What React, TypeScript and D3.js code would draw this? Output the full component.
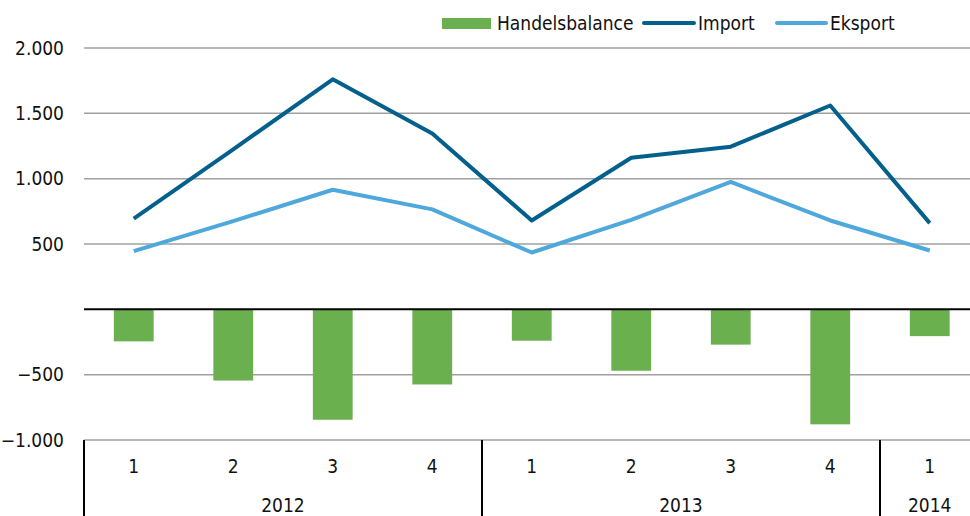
import React, { useRef, useEffect } from "react";
import * as d3 from "d3";

const quarters = ["1", "2", "3", "4", "1", "2", "3", "4", "1"];
const years = [
  { label: "2012", start: 0, count: 4 },
  { label: "2013", start: 4, count: 4 },
  { label: "2014", start: 8, count: 1 },
];
const importValues = [695, 1225, 1760, 1345, 680, 1160, 1245, 1560, 660];
const eksportValues = [445, 675, 915, 765, 435, 685, 975, 680, 450];
const balanceValues = [-245, -545, -845, -575, -240, -470, -270, -880, -205];
const yTicks = [2000, 1500, 1000, 500, 0, -500, -1000];

const W = 970;
const H = 516;
const FONT = "'DejaVu Sans Condensed', 'DejaVu Sans', sans-serif";

const App = () => {
  const ref = useRef<SVGSVGElement>(null);

  useEffect(() => {
    const svg = d3.select(ref.current);
    svg.selectAll("*").remove();

    const left = 84;
    const right = 979.5;
    const x = d3
      .scaleBand<number>()
      .domain(quarters.map((_, i) => i))
      .range([left, right])
      .paddingInner(0.6)
      .paddingOuter(0.3);
    const y = d3.scaleLinear().domain([-1000, 2000]).range([440, 48]);
    const cx = (i: number) => (x(i) as number) + x.bandwidth() / 2;
    const step = (right - left) / quarters.length;

    const fmt = (v: number) =>
      v === 0 ? "" : d3.format(",")(v).replace(/,/g, ".");

    const txt = (sel: any) =>
      sel
        .attr("font-family", FONT)
        .attr("font-stretch", "condensed")
        .attr("font-size", 19)
        .attr("fill", "#111");

    // gridlines
    svg
      .append("g")
      .selectAll("line")
      .data(yTicks.filter((t) => t !== 0))
      .join("line")
      .attr("x1", left)
      .attr("x2", W)
      .attr("y1", (d) => y(d))
      .attr("y2", (d) => y(d))
      .attr("stroke", "#a0a0a0")
      .attr("stroke-width", 1.5);

    svg
      .append("g")
      .call(txt)
      .selectAll("text")
      .data(yTicks)
      .join("text")
      .attr("x", 64)
      .attr("y", (d) => y(d))
      .attr("dy", "0.35em")
      .attr("text-anchor", "end")
      .text(fmt);

    // bars
    svg
      .append("g")
      .selectAll("rect")
      .data(balanceValues)
      .join("rect")
      .attr("x", (_, i) => x(i) as number)
      .attr("width", x.bandwidth())
      .attr("y", (d) => y(Math.max(0, d)))
      .attr("height", (d) => Math.abs(y(d) - y(0)))
      .attr("fill", "#6ab04f");

    // zero line
    svg
      .append("line")
      .attr("x1", left)
      .attr("x2", W)
      .attr("y1", y(0))
      .attr("y2", y(0))
      .attr("stroke", "#000")
      .attr("stroke-width", 2);

    const line = d3
      .line<number>()
      .x((_, i) => cx(i))
      .y((d) => y(d));

    svg
      .append("path")
      .attr("d", line(eksportValues))
      .attr("fill", "none")
      .attr("stroke", "#4fa8dc")
      .attr("stroke-width", 4)
      .attr("stroke-linejoin", "round");

    svg
      .append("path")
      .attr("d", line(importValues))
      .attr("fill", "none")
      .attr("stroke", "#03608c")
      .attr("stroke-width", 4)
      .attr("stroke-linejoin", "round");

    // category axis
    const axis = svg.append("g").call(txt);
    axis
      .selectAll("text.q")
      .data(quarters)
      .join("text")
      .attr("class", "q")
      .attr("x", (_, i) => cx(i))
      .attr("y", 473)
      .attr("text-anchor", "middle")
      .text((d) => d);

    axis
      .selectAll("text.yr")
      .data(years)
      .join("text")
      .attr("class", "yr")
      .attr("x", (d) => left + step * (d.start + d.count / 2))
      .attr("y", 512)
      .attr("text-anchor", "middle")
      .text((d) => d.label);

    axis
      .selectAll("line")
      .data(years.map((d) => d.start))
      .join("line")
      .attr("x1", (d) => left + step * d)
      .attr("x2", (d) => left + step * d)
      .attr("y1", 440)
      .attr("y2", H)
      .attr("stroke", "#000")
      .attr("stroke-width", 2);

    // legend
    const legend = svg.append("g").call(txt);
    legend
      .append("rect")
      .attr("x", 442)
      .attr("y", 18)
      .attr("width", 49)
      .attr("height", 11)
      .attr("fill", "#6ab04f");
    legend.append("text").attr("x", 497).attr("y", 30).text("Handelsbalance");
    legend
      .append("line")
      .attr("x1", 644)
      .attr("x2", 694)
      .attr("y1", 23)
      .attr("y2", 23)
      .attr("stroke", "#03608c")
      .attr("stroke-width", 4)
      .attr("stroke-linecap", "round");
    legend.append("text").attr("x", 698).attr("y", 30).text("Import");
    legend
      .append("line")
      .attr("x1", 777)
      .attr("x2", 826)
      .attr("y1", 23)
      .attr("y2", 23)
      .attr("stroke", "#4fa8dc")
      .attr("stroke-width", 4)
      .attr("stroke-linecap", "round");
    legend.append("text").attr("x", 830).attr("y", 30).text("Eksport");
  }, []);

  return (
    <svg
      ref={ref}
      width={W}
      height={H}
      style={{ position: "absolute", left: 0, top: 0, background: "#fff" }}
    />
  );
};

export default App;
